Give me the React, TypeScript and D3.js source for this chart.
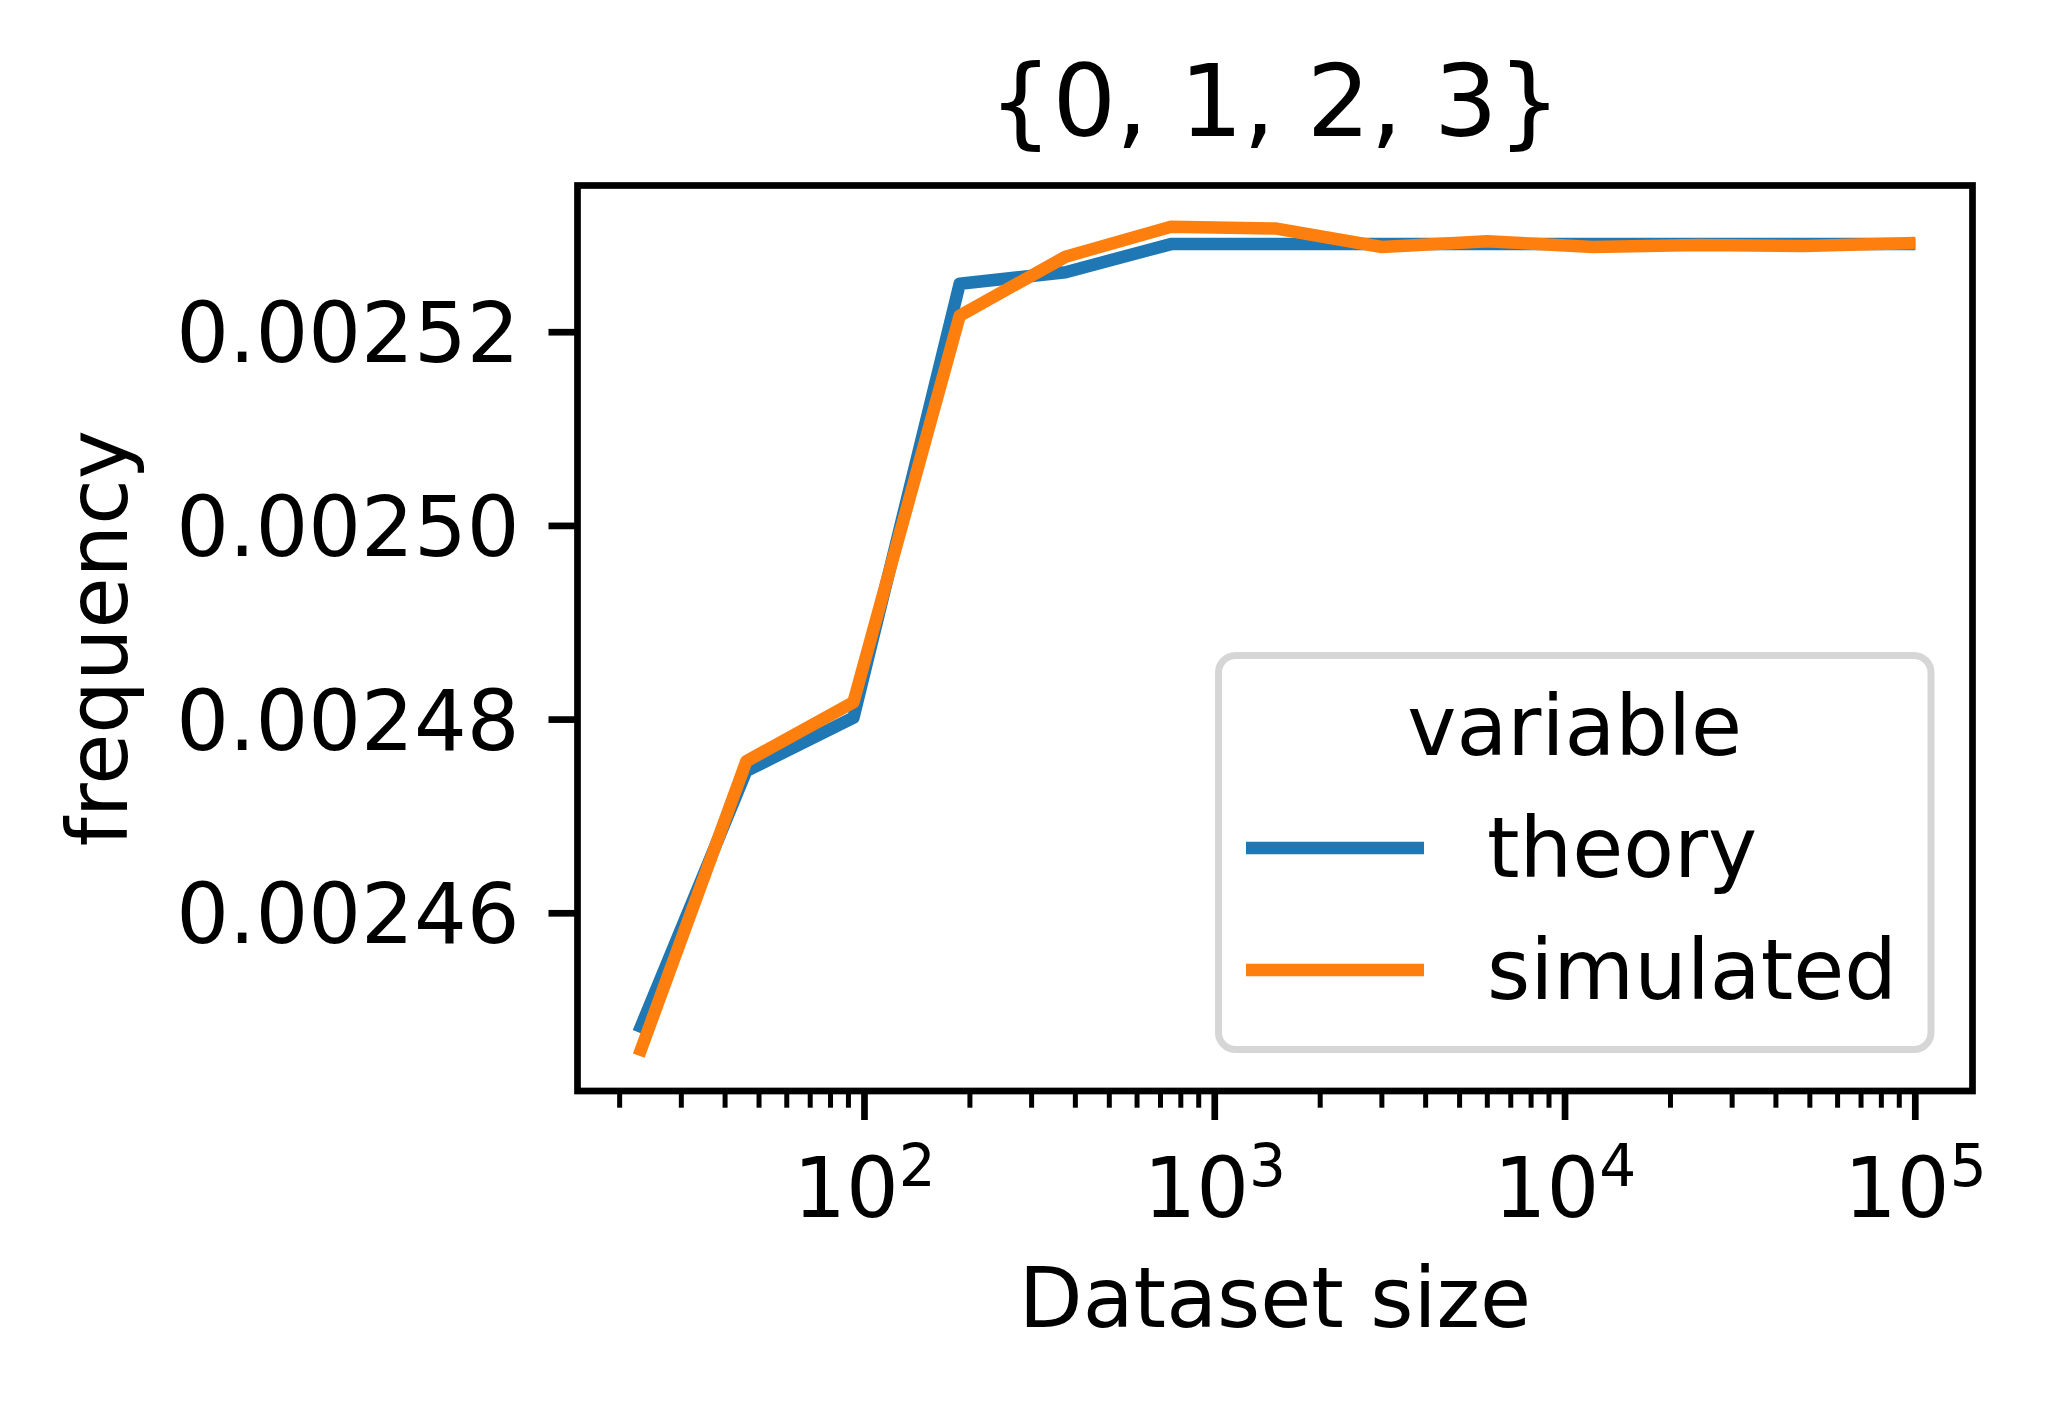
import React from "react";
import * as d3 from "d3";

// ---- data ----
const datasetSizes = [23, 46, 93, 187, 375, 750, 1500, 3000, 6000, 12000, 24000, 48000, 96000];
const theoryValues = [
  0.0024483, 0.0024747, 0.0024802, 0.002525, 0.0025262, 0.0025291, 0.0025291,
  0.0025291, 0.0025291, 0.0025291, 0.0025291, 0.0025291, 0.0025291,
];
const simulatedValues = [
  0.0024459, 0.0024757, 0.0024818, 0.0025217, 0.0025278, 0.0025309, 0.0025307,
  0.0025288, 0.0025294, 0.0025288, 0.002529, 0.0025289, 0.0025292,
];
const seriesNames = ["theory", "simulated"];
const seriesColors = ["#1f77b4", "#ff7f0e"];
const yTickValues = [0.00246, 0.00248, 0.0025, 0.00252];
const xTickExponents = [2, 3, 4, 5];
const titleText = "{0, 1, 2, 3}";
const xLabelText = "Dataset size";
const yLabelText = "frequency";
const legendTitle = "variable";

// ---- layout ----
const W = 2045;
const H = 1405;
const L = 577.5;
const R = 1972.5;
const T = 185.5;
const B = 1091;
const FS = 83;
const FONT = "DejaVu Sans, Verdana, sans-serif";

export default function App() {
  const lx0 = Math.log10(d3.min(datasetSizes)!);
  const lx1 = Math.log10(d3.max(datasetSizes)!);
  const mx = (lx1 - lx0) * 0.05;
  const x = d3.scaleLog().domain([10 ** (lx0 - mx), 10 ** (lx1 + mx)]).range([L, R]);

  const all = [...theoryValues, ...simulatedValues];
  const y0 = d3.min(all)!;
  const y1 = d3.max(all)!;
  const my = (y1 - y0) * 0.05;
  const y = d3.scaleLinear().domain([y0 - my, y1 + my]).range([B, T]);

  const series = [theoryValues, simulatedValues];
  const line = d3
    .line<number>()
    .x((_, i) => x(datasetSizes[i]))
    .y((d) => y(d));

  const [dMin, dMax] = x.domain();
  const minor: number[] = [];
  for (let k = 0; k <= 6; k++) {
    for (let m = 2; m <= 9; m++) {
      const v = m * 10 ** k;
      if (v >= dMin && v <= dMax) minor.push(v);
    }
  }

  const legX0 = 1218.5;
  const legX1 = 1931;
  const legY0 = 655.5;
  const legY1 = 1049.5;

  return (
    <svg
      width={W}
      height={H}
      style={{ position: "fixed", left: 0, top: 0, background: "#fff" }}
      fontFamily={FONT}
    >
      <rect x={0} y={0} width={W} height={H} fill="#fff" />
      <defs>
        <clipPath id="plotclip">
          <rect x={L} y={T} width={R - L} height={B - T} />
        </clipPath>
      </defs>

      {/* lines */}
      <g clipPath="url(#plotclip)">
        {series.map((s, i) => (
          <path
            key={seriesNames[i]}
            d={line(s) || ""}
            fill="none"
            stroke={seriesColors[i]}
            strokeWidth={12.5}
            strokeLinejoin="round"
            strokeLinecap="square"
          />
        ))}
      </g>

      {/* spines */}
      <rect x={L} y={T} width={R - L} height={B - T} fill="none" stroke="#000" strokeWidth={6.7} strokeLinejoin="miter" />

      {/* x ticks */}
      {minor.map((v) => (
        <line key={"mn" + v} x1={x(v)} x2={x(v)} y1={B} y2={B + 16.7} stroke="#000" strokeWidth={5} />
      ))}
      {xTickExponents.map((e) => {
        const px = x(10 ** e);
        return (
          <g key={"xt" + e}>
            <line x1={px} x2={px} y1={B} y2={B + 29} stroke="#000" strokeWidth={6.7} />
            <text x={px} y={1217} textAnchor="middle" fontSize={FS} fill="#000">
              <tspan>10</tspan>
              <tspan dy={-31} fontSize={FS * 0.7}>
                {e}
              </tspan>
            </text>
          </g>
        );
      })}

      {/* y ticks */}
      {yTickValues.map((v) => {
        const py = y(v);
        return (
          <g key={"yt" + v}>
            <line x1={L - 29} x2={L} y1={py} y2={py} stroke="#000" strokeWidth={6.7} />
            <text x={L - 29 - 29} y={py + 30} textAnchor="end" fontSize={FS} fill="#000">
              {v.toFixed(5)}
            </text>
          </g>
        );
      })}

      {/* labels */}
      <text x={(L + R) / 2} y={1327} textAnchor="middle" fontSize={FS} fill="#000">
        {xLabelText}
      </text>
      <text
        transform={`translate(127, ${(T + B) / 2}) rotate(-90)`}
        textAnchor="middle"
        fontSize={FS}
        fill="#000"
      >
        {yLabelText}
      </text>
      <text x={(L + R) / 2} y={136} textAnchor="middle" fontSize={100} fill="#000">
        {titleText}
      </text>

      {/* legend */}
      <rect
        x={legX0}
        y={legY0}
        width={legX1 - legX0}
        height={legY1 - legY0}
        rx={17}
        ry={17}
        fill="#fff"
        fillOpacity={0.8}
        stroke="#d6d6d6"
        strokeWidth={7}
      />
      <text x={(legX0 + legX1) / 2} y={755} textAnchor="middle" fontSize={FS} fill="#000">
        {legendTitle}
      </text>
      {seriesNames.map((n, i) => {
        const cy = 848 + i * 122;
        return (
          <g key={"lg" + n}>
            <line x1={1246} x2={1424} y1={cy} y2={cy} stroke={seriesColors[i]} strokeWidth={12.5} />
            <text x={1487} y={cy + 29} fontSize={FS} fill="#000">
              {n}
            </text>
          </g>
        );
      })}
    </svg>
  );
}
